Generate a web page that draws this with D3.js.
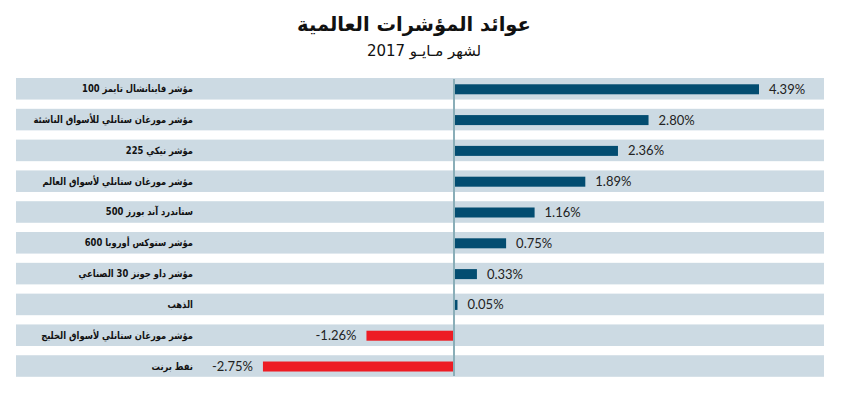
<!DOCTYPE html>
<html>
<head>
  <meta charset="utf-8">
  <script src="https://d3js.org/d3.v7.min.js"></script>
  <style>
    body { margin: 0; background: #fff; }
    .cat { font-family: "DejaVu Sans"; font-weight: bold; font-size: 10px; fill: #111; }
    .val { font-family: Lato; font-size: 13px; fill: #222; }
    .title { font-family: "DejaVu Sans"; font-weight: bold; font-size: 19.5px; fill: #111; }
    .sub { font-family: "DejaVu Sans"; font-size: 15px; fill: #111; }
  </style>
</head>
<body>
  <svg width="841" height="397"></svg>
  <script>
    var categories = [
      "مؤشر فاينانشال تايمز 100",
      "مؤشر مورغان ستانلي للأسواق الناشئة",
      "مؤشر نيكي 225",
      "مؤشر مورغان ستانلي لأسواق العالم",
      "ستاندرد آند بورز 500",
      "مؤشر ستوكس أوروبا 600",
      "مؤشر داو جونز 30 الصناعي",
      "الذهب",
      "مؤشر مورغان ستانلي لأسواق الخليج",
      "نفط برنت"
    ];
    var values = [4.39, 2.80, 2.36, 1.89, 1.16, 0.75, 0.33, 0.05, -1.26, -2.75];
    var labels = ["4.39%", "2.80%", "2.36%", "1.89%", "1.16%", "0.75%", "0.33%", "0.05%", "-1.26%", "-2.75%"];

    var svg = d3.select("svg");

    var x = d3.scaleLinear().domain([0, 4.39]).range([454, 759]);
    var y = d3.scaleBand().domain(categories).range([78, 376.8]).paddingInner(0.3);

    svg.append("text").attr("class", "title")
      .attr("x", 414).attr("y", 31).attr("text-anchor", "middle")
      .text("عوائد المؤشرات العالمية");
    svg.append("text").attr("class", "sub")
      .attr("x", 424).attr("y", 56).attr("text-anchor", "middle")
      .text("لشهر مـايـو 2017");

    // row bands
    svg.selectAll("rect.band").data(categories).enter().append("rect")
      .attr("class", "band")
      .attr("x", 16).attr("width", 808)
      .attr("y", function (d) { return y(d); })
      .attr("height", y.bandwidth())
      .attr("fill", "#ccdae3");

    // bars
    var barH = 10;
    svg.selectAll("rect.bar").data(values).enter().append("rect")
      .attr("class", "bar")
      .attr("x", function (d) { return x(Math.min(0, d)); })
      .attr("width", function (d) { return Math.abs(x(d) - x(0)); })
      .attr("y", function (d, i) { return y(categories[i]) + y.bandwidth() / 2 - barH / 2 + 0.5; })
      .attr("height", barH)
      .attr("fill", function (d) { return d < 0 ? "#ed1c24" : "#034d71"; });

    // zero line
    svg.append("line")
      .attr("x1", x(0)).attr("x2", x(0))
      .attr("y1", 79).attr("y2", 376)
      .attr("stroke", "#8aaeb8").attr("stroke-width", 2);

    // value labels
    svg.selectAll("text.val").data(values).enter().append("text")
      .attr("class", "val")
      .attr("x", function (d) { return d < 0 ? x(d) - 10 : x(d) + 10; })
      .attr("y", function (d, i) { return y(categories[i]) + y.bandwidth() / 2 + 5; })
      .attr("text-anchor", function (d) { return d < 0 ? "end" : "start"; })
      .text(function (d, i) { return labels[i]; });

    // category labels (condensed horizontally)
    svg.selectAll("text.cat").data(categories).enter().append("text")
      .attr("class", "cat")
      .attr("transform", function (d) {
        return "translate(193," + (y(d) + y.bandwidth() / 2 + 3.5) + ") scale(0.84,1)";
      })
      .attr("direction", "rtl")
      .attr("text-anchor", "start")
      .text(function (d) { return d; });
  </script>
</body>
</html>
